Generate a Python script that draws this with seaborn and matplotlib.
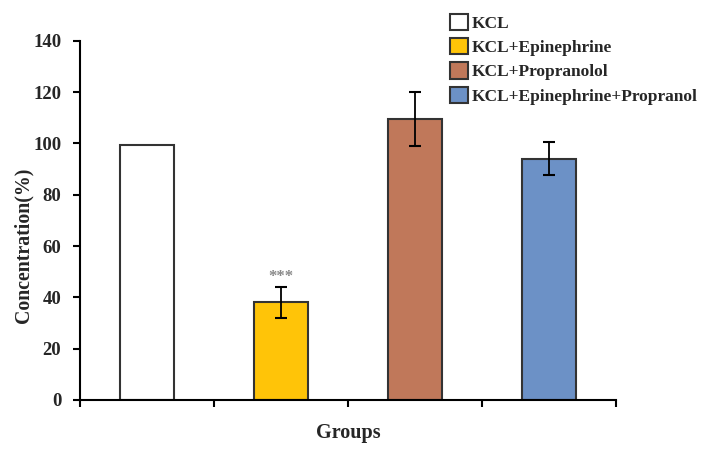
import matplotlib
matplotlib.use("Agg")
import matplotlib.pyplot as plt
import seaborn as sns
import numpy as np
from matplotlib.patches import Patch

groups = ["KCL", "KCL+Epinephrine", "KCL+Propranolol", "KCL+Epinephrine+Propranol"]
values = [99.5, 38, 109.5, 94]
errors = [0, 6, 10.5, 6.5]
colors = ["#FFFFFF", "#FFC408", "#C0785A", "#6C91C6"]
yticks = [0, 20, 40, 60, 80, 100, 120, 140]
annot = "***"

sns.set_style("white")
plt.rcParams["font.family"] = ["Liberation Serif", "DejaVu Serif"]
plt.rcParams["font.weight"] = "bold"

fig = plt.figure(figsize=(7.16, 4.53), dpi=100)
ax = fig.add_axes([0.1117, 0.117, 0.7486, 0.793])

sns.barplot(x=groups, y=values, hue=groups, palette=colors, width=0.41, saturation=1,
            edgecolor="#333333", linewidth=1.5, legend=False, ax=ax, order=groups)

xs = np.arange(len(groups))
for xi, v, e in zip(xs, values, errors):
    if e > 0:
        ax.errorbar(xi, v, yerr=e, fmt="none", ecolor="black", elinewidth=1.3,
                    capsize=4, capthick=1.5)

ax.text(xs[1], values[1] + errors[1] + 0.8, annot, ha="center", va="bottom",
        color="#888888", fontsize=12)

ax.set_xlim(-0.5, len(groups) - 0.5)
ax.set_ylim(0, 140)
ax.set_yticks(yticks)
ax.set_yticklabels([str(t) for t in yticks], fontsize=13.5, fontweight="bold")
ax.set_xticks(np.arange(-0.5, len(groups), 1.0))
ax.set_xticklabels([])
ax.tick_params(axis="both", direction="out", length=5, width=1.5, color="black", left=True, bottom=True)
ax.tick_params(axis="y", pad=8.5)
for s in ["top", "right"]:
    ax.spines[s].set_visible(False)
for s in ["left", "bottom"]:
    ax.spines[s].set_color("black")
    ax.spines[s].set_linewidth(1.5)

ax.set_xlabel("Groups", fontsize=14.5, fontweight="bold")
ax.xaxis.set_label_coords(0.5, -0.065)
ax.set_ylabel("Concentration(%)", fontsize=14.3, fontweight="bold")
ax.yaxis.set_label_coords(-0.087, 0.43)

handles = [Patch(facecolor=c, edgecolor="#333333", linewidth=1.5) for c in colors]
leg = fig.legend(handles, groups, loc="upper left", bbox_to_anchor=(0.628, 1 - 14 / 453),
                 frameon=False, prop={"family": ["Liberation Serif"], "weight": "bold", "size": 12.5},
                 handlelength=1.05, handleheight=1.05, handletextpad=0.2, labelspacing=0.36,
                 borderaxespad=0, borderpad=0)

fig.savefig("out.png", dpi=100)
